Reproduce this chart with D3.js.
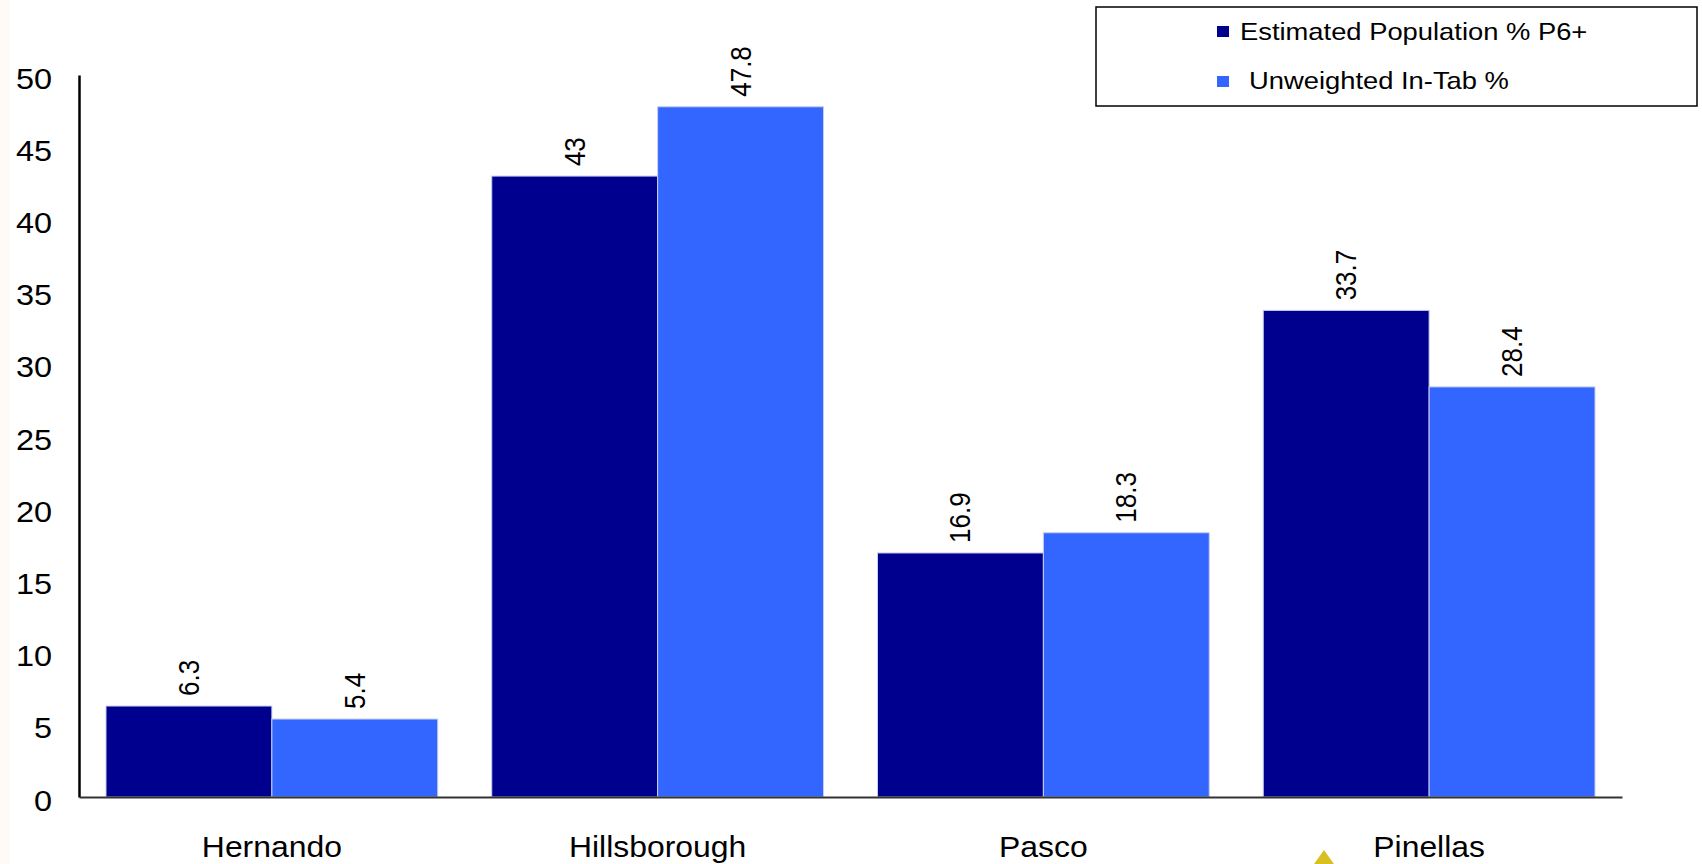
<!DOCTYPE html>
<html>
<head>
<meta charset="utf-8">
<script src="https://cdn.jsdelivr.net/npm/d3@7"></script>
<style>
  html, body { margin: 0; padding: 0; background: #ffffff; }
  svg { display: block; }
  text { font-family: "Liberation Sans", Arial, sans-serif; fill: #000; }
</style>
</head>
<body>
<svg id="chart" width="1702" height="864"></svg>
<script>
// ---- data ----
const categories = ["Hernando", "Hillsborough", "Pasco", "Pinellas"];
const seriesNames = ["Estimated Population % P6+", "Unweighted In-Tab %"];
const estimatedPopulation = [6.3, 43, 16.9, 33.7];
const unweightedInTab = [5.4, 47.8, 18.3, 28.4];
const yTicks = [0, 5, 10, 15, 20, 25, 30, 35, 40, 45, 50];
const seriesColors = ["#00008E", "#3366FF"];

(function () {
const seriesValues = [estimatedPopulation, unweightedInTab];
const rows = categories.map((c, i) => ({
  category: c,
  values: seriesNames.map((s, j) => ({ series: s, idx: j, value: seriesValues[j][i] }))
}));

const svg = d3.select("#chart");
const plotLeft = 79, plotRight = 1622, plotTop = 75, plotBottom = 797;
const SX = 1.12; // the original chart text is horizontally stretched

const x0 = d3.scaleBand().domain(categories).range([plotLeft, plotRight])
  .paddingInner(0.14).paddingOuter(0.07);
const x1 = d3.scaleBand().domain(seriesNames).range([0, x0.bandwidth()]).padding(0);
const y = d3.scaleLinear().domain([0, 50]).range([plotBottom, plotTop]);

// faint slide-background tint on the left edge
svg.append("rect").attr("x", 0).attr("y", 0).attr("width", 10).attr("height", 864)
  .attr("fill", "#fffaf5");

// bars
const groups = svg.append("g").selectAll("g").data(rows).join("g")
  .attr("transform", d => `translate(${x0(d.category)},0)`);

groups.selectAll("rect").data(d => d.values).join("rect")
  .attr("x", d => x1(d.series))
  .attr("y", d => y(d.value))
  .attr("width", x1.bandwidth())
  .attr("height", d => y(0) - y(d.value))
  .attr("fill", d => seriesColors[d.idx])
  .attr("stroke", "#c8cdf0")
  .attr("stroke-width", 1);

// value labels (rotated)
groups.selectAll("text").data(d => d.values).join("text")
  .attr("transform", d => `translate(${x1(d.series) + x1.bandwidth() / 2},${y(d.value) - 10}) scale(${SX},1) rotate(-90)`)
  .attr("text-anchor", "start")
  .attr("dominant-baseline", "central")
  .style("font-size", "26px")
  .text(d => d.value);

// y axis
const yAxis = d3.axisLeft(y).tickValues(yTicks).tickSize(0).tickPadding(0);
const ya = svg.append("g").attr("transform", `translate(${plotLeft},0)`).call(yAxis);
ya.select(".domain").attr("stroke", "#000").attr("stroke-width", 2.5);
ya.selectAll(".tick text")
  .attr("x", 0)
  .attr("y", 0)
  .attr("dy", "0.35em")
  .attr("transform", `translate(${52 - plotLeft},3) scale(${SX},1)`)
  .attr("text-anchor", "end")
  .style("font-family", "'Liberation Sans', Arial, sans-serif")
  .style("font-size", "29px")
  .attr("fill", "#000");

// x axis baseline and labels
const xAxis = d3.axisBottom(x0).tickSize(0).tickPadding(0);
const xa = svg.append("g").attr("transform", `translate(0,${plotBottom})`).call(xAxis);
xa.select(".domain").attr("stroke", "#333").attr("stroke-width", 2);
xa.selectAll(".tick text")
  .attr("y", 0)
  .attr("dy", 0)
  .attr("transform", `translate(0,60) scale(1.10,1)`)
  .style("font-family", "'Liberation Sans', Arial, sans-serif")
  .style("font-size", "29px")
  .attr("fill", "#000");

// legend
const lg = svg.append("g");
lg.append("rect").attr("x", 1096).attr("y", 7).attr("width", 601).attr("height", 99)
  .attr("fill", "#fff").attr("stroke", "#000").attr("stroke-width", 1.5);
const legendRows = [
  { name: seriesNames[0], color: seriesColors[0], sy: 26, sh: 11, tx: 1240, ty: 32 },
  { name: seriesNames[1], color: seriesColors[1], sy: 76, sh: 11, tx: 1249, ty: 80.5 }
];
legendRows.forEach(r => {
  lg.append("rect").attr("x", 1217).attr("y", r.sy).attr("width", 12).attr("height", r.sh)
    .attr("fill", r.color);
  lg.append("text")
    .attr("transform", `translate(${r.tx},${r.ty}) scale(1.14,1)`)
    .attr("dominant-baseline", "central")
    .style("font-size", "24px")
    .text(r.name);
});

// small yellow decoration from slide background
svg.append("path").attr("d", "M1314,864 L1324,850 L1334,864 Z").attr("fill", "#d8c020");
})();
</script>
</body>
</html>
